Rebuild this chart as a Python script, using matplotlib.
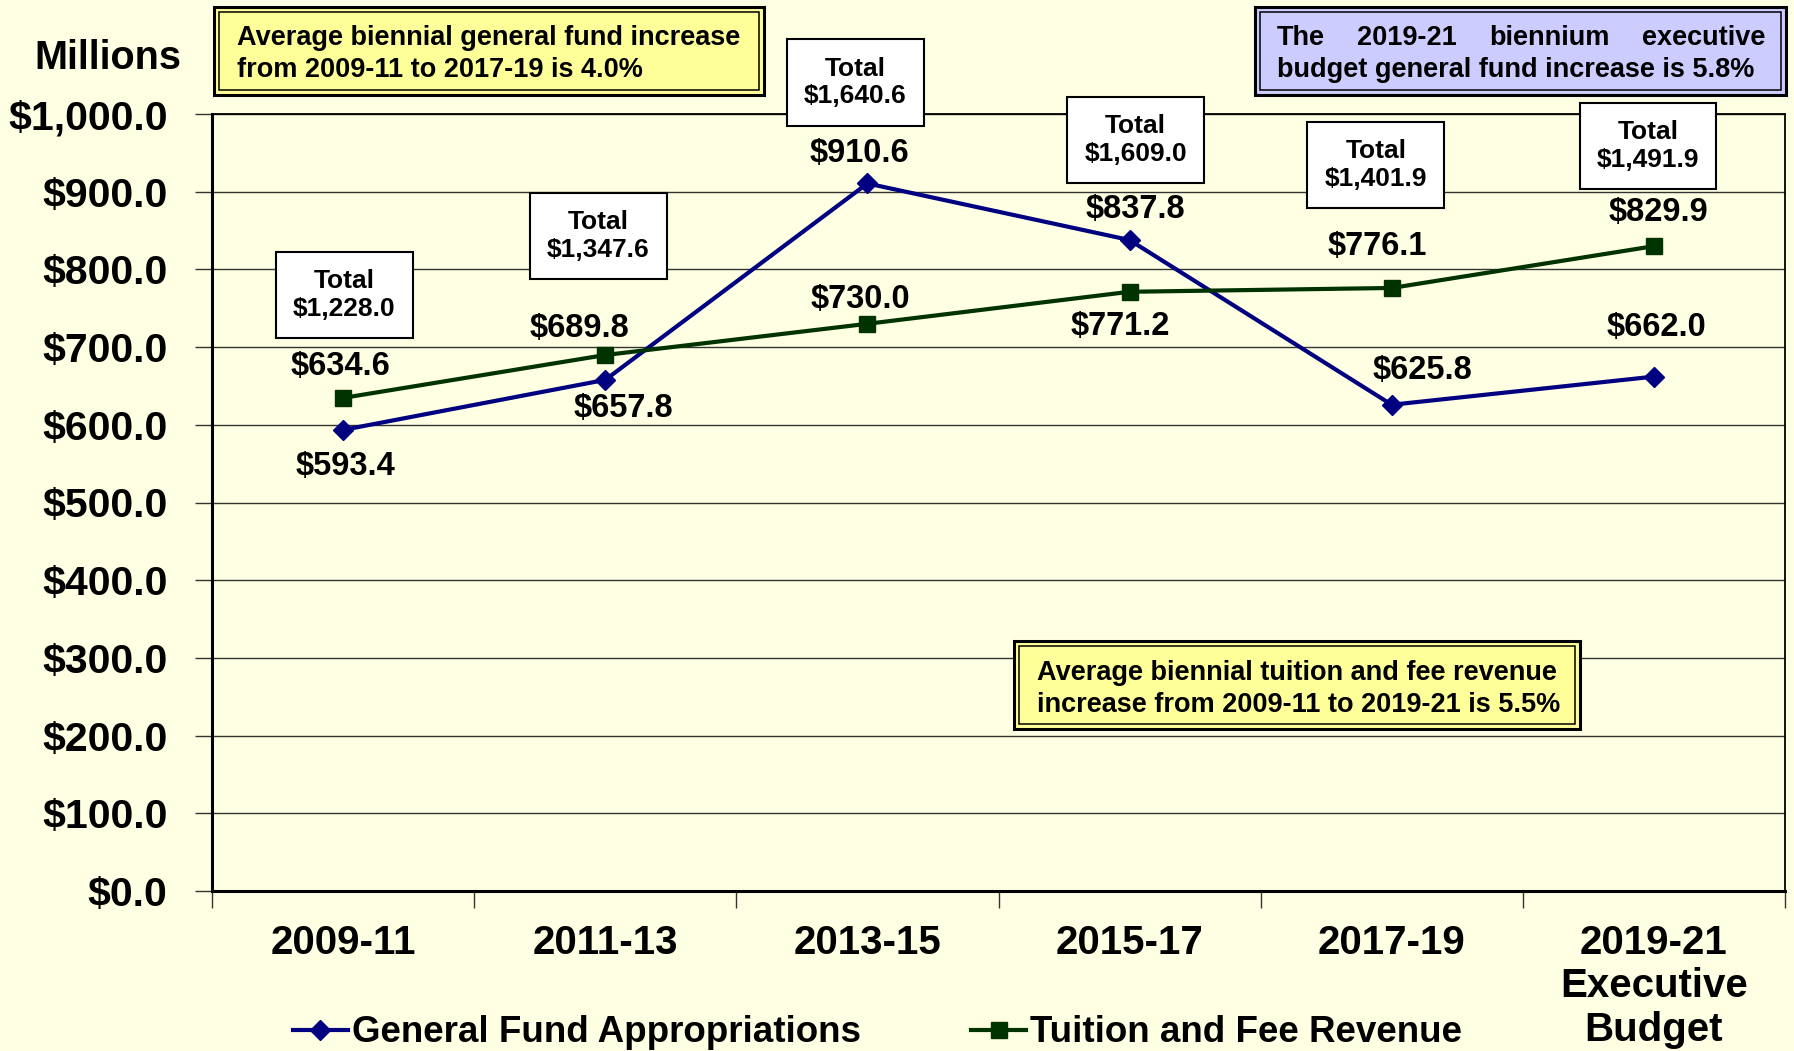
import matplotlib
matplotlib.use("Agg")
import matplotlib.pyplot as plt
from matplotlib.patches import Rectangle
from matplotlib.ticker import FuncFormatter, MultipleLocator, FixedLocator

W, H = 1794, 1051
FONT = "Liberation Sans"
plt.rcParams["font.family"] = [FONT, "DejaVu Sans"]
plt.rcParams["font.weight"] = "bold"

BG = "#FFFFE3"
BLUE = "#000080"
GREEN = "#003300"
YELLOW = "#FFFF99"
LAVENDER = "#CCCCFF"

periods = ["2009-11", "2011-13", "2013-15", "2015-17", "2017-19", "2019-21\nExecutive\nBudget"]
general = [593.4, 657.8, 910.6, 837.8, 625.8, 662.0]
tuition = [634.6, 689.8, 730.0, 771.2, 776.1, 829.9]
totals = [1228.0, 1347.6, 1640.6, 1609.0, 1401.9, 1491.9]

# label offsets in pixels (dx, dy) from the data point
gen_off = [(2, -37), (18, -29), (-8, 30), (6, 31), (31, 34), (3, 49)]
tui_off = [(-3, 31), (-26, 27), (-7, 24), (-9, -35), (-14, 41), (5, 34)]
tot_off = [(1, 103), (-7, 119), (-12, 101), (6, 100), (-16, 123), (-6, 100)]


def money(v):
    return f"${v:,.1f}"


fig = plt.figure(figsize=(W / 100, H / 100), dpi=100, facecolor=BG)
ax = fig.add_axes([212 / W, 1 - 891 / H, (1785 - 212) / W, (891 - 114) / H])
ax.set_facecolor(BG)

x = list(range(len(periods)))
gl, = ax.plot(x, general, color=BLUE, lw=3, marker="D", ms=10, mfc=BLUE, mec=BLUE,
              label="General Fund Appropriations", zorder=4)
tl, = ax.plot(x, tuition, color=GREEN, lw=3, marker="s", ms=11, mfc=GREEN, mec=GREEN,
              label="Tuition and Fee Revenue", zorder=4)

for i in x:
    ax.annotate(money(general[i]), (i, general[i]), xytext=gen_off[i], textcoords="offset pixels",
                ha="center", va="center", fontsize=23.5, fontweight="bold")
    ax.annotate(money(tuition[i]), (i, tuition[i]), xytext=tui_off[i], textcoords="offset pixels",
                ha="center", va="center", fontsize=23.5, fontweight="bold")
    top = max(general[i], tuition[i])
    ax.annotate(f"Total\n{money(totals[i])}", (i, top), xytext=tot_off[i], textcoords="offset pixels",
                ha="center", va="center", fontsize=19, fontweight="bold", linespacing=1.2,
                bbox=dict(boxstyle="square,pad=0.65", fc="white", ec="black", lw=1.5), zorder=5)

ax.set_xlim(-0.5, len(periods) - 0.5)
ax.set_ylim(0, 1000)
ax.yaxis.set_major_locator(MultipleLocator(100))
ax.yaxis.set_major_formatter(FuncFormatter(lambda v, p: money(v)))
ax.grid(axis="y", color="#333333", lw=1.0)
ax.set_axisbelow(True)

ax.set_xticks(x)
ax.set_xticklabels(periods, linespacing=1.17)
ax.xaxis.set_minor_locator(FixedLocator([i - 0.5 for i in range(len(periods) + 1)]))
ax.tick_params(axis="x", which="major", length=0, pad=24, labelsize=29)
ax.tick_params(axis="x", which="minor", length=12, width=1, color="#333333")
ax.tick_params(axis="y", length=12, width=1, color="#333333", pad=20, labelsize=29.5)
for lab in ax.get_xticklabels() + ax.get_yticklabels():
    lab.set_fontweight("bold")

ax.spines["left"].set_linewidth(2.2)
ax.spines["bottom"].set_linewidth(2.2)
ax.spines["top"].set_linewidth(1.3)
ax.spines["right"].set_linewidth(1.3)

fig.text(108 / W, 1 - 58 / H, "Millions", ha="center", va="center", fontsize=28.5, fontweight="bold")


def note_box(x0, y0, x1, y1, color):
    outer = Rectangle((x0 / W, 1 - y1 / H), (x1 - x0) / W, (y1 - y0) / H, transform=fig.transFigure,
                      fc=color, ec="black", lw=2.2, zorder=6)
    inner = Rectangle(((x0 + 5) / W, 1 - (y1 - 5) / H), (x1 - x0 - 10) / W, (y1 - y0 - 10) / H,
                      transform=fig.transFigure, fc="none", ec="black", lw=1.1, zorder=7)
    fig.add_artist(outer)
    fig.add_artist(inner)


def justified(words, left, right, y, size):
    texts = [fig.text(left / W, 1 - y / H, w, ha="left", va="center", fontsize=size,
                      fontweight="bold", zorder=8) for w in words]
    fig.canvas.draw()
    r = fig.canvas.get_renderer()
    widths = [t.get_window_extent(r).width for t in texts]
    gap = (right - left - sum(widths)) / max(len(words) - 1, 1)
    pos = left
    for t, wd in zip(texts, widths):
        t.set_x(pos / W)
        pos += wd + gap


note_box(214, 7, 764, 95, YELLOW)
fig.text(237 / W, 1 - 38 / H, "Average biennial general fund increase", fontsize=19.5,
         fontweight="bold", va="center", zorder=8)
fig.text(237 / W, 1 - 70 / H, "from 2009-11 to 2017-19 is 4.0%", fontsize=19.5,
         fontweight="bold", va="center", zorder=8)

note_box(1255, 7, 1786, 95, LAVENDER)
justified(["The", "2019-21", "biennium", "executive"], 1277, 1765, 38, 19.5)
fig.text(1277 / W, 1 - 70 / H, "budget general fund increase is 5.8%", fontsize=19.5,
         fontweight="bold", va="center", zorder=8)

note_box(1014, 641, 1580, 729, YELLOW)
fig.text(1037 / W, 1 - 673 / H, "Average biennial tuition and fee revenue", fontsize=19.5,
         fontweight="bold", va="center", zorder=8)
fig.text(1037 / W, 1 - 705 / H, "increase from 2009-11 to 2019-21 is 5.5%", fontsize=19.5,
         fontweight="bold", va="center", zorder=8)

fig.legend(handles=[gl, tl], loc="center", bbox_to_anchor=(0.489, 1 - 1033 / H), ncol=2,
           frameon=False, handlelength=1.5, handletextpad=0.1, columnspacing=3.0,
           prop=dict(family=FONT, weight="bold", size=26.5))

fig.savefig("out.png", dpi=100, facecolor=BG)
